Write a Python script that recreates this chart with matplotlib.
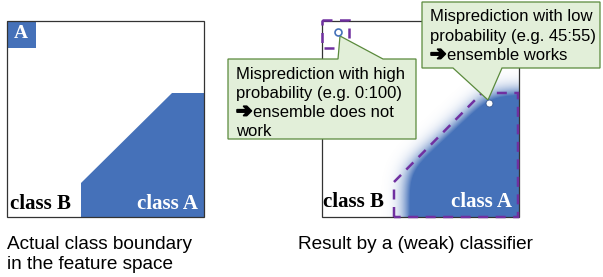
import numpy as np
import matplotlib.pyplot as plt
import matplotlib.patheffects as pe
from matplotlib.patches import Polygon, Rectangle
from matplotlib.path import Path

# --- dados (coordenadas em pixels da figura, y para baixo) ---
caixa_esq = [7, 21, 197, 196]          # x, y, largura, altura
caixa_dir = [322, 21, 197, 196]
quadrado_a = [7, 21, 29, 27]
regiao_a_real = [(81, 217), (81, 183), (172, 93), (204, 93), (204, 217)]
regiao_a_prev = [(410, 217), (410, 172), (490, 97), (519, 95), (519, 217)]
fronteira_prev = [(394, 217), (394, 182), (482, 93), (518, 93), (518, 217)]
quadrado_falha = [322, 20, 27, 28]
balao_alta = [(228, 59), (338, 59), (340, 36), (383, 59), (416, 59), (416, 139), (228, 139)]
balao_baixa = [(422, 2), (600, 2), (600, 68), (502, 68), (488, 100), (453, 68), (422, 68)]
pontos_erro = [(338, 32), (489, 103)]
texto_alta = ["Misprediction with high", "probability (e.g. 0:100)",
              "\u2794ensemble does not", "work"]
texto_baixa = ["Misprediction with low", "probability (e.g. 45:55)",
               "\u2794ensemble works"]
legenda_esq = ["Actual class boundary", "in the feature space"]
legenda_dir = "Result by a (weak) classifier"

AZUL = "#4571B9"
ROXO = "#7030A0"
VERDE_F = "#E2EFD9"
VERDE_B = "#5A8A3C"
SANS = ["Liberation Sans", "DejaVu Sans"]
SERIF = ["Liberation Serif", "DejaVu Serif"]

W, H = 603, 277
fig = plt.figure(figsize=(W / 100, H / 100), dpi=100)
ax = fig.add_axes([0, 0, 1, 1])
ax.set_xlim(0, W)
ax.set_ylim(H, 0)
ax.axis("off")

# --- painel esquerdo ---
ax.add_patch(Polygon(regiao_a_real, closed=True, fc=AZUL, ec="none", zorder=2))
ax.add_patch(Rectangle(quadrado_a[:2], quadrado_a[2], quadrado_a[3], fc=AZUL, ec="none", zorder=2))
ax.add_patch(Rectangle(caixa_esq[:2], caixa_esq[2], caixa_esq[3], fc="none", ec="#333333", lw=0.9, zorder=3))
ax.text(14, 38, "A", color="white", fontsize=14, fontweight="bold", family=SERIF, va="baseline", zorder=4)
ax.text(10, 209, "class B", color="black", fontsize=15, fontweight="bold", family=SERIF, va="baseline", zorder=4)
ax.text(198, 209, "class A", color="white", fontsize=15, fontweight="bold", family=SERIF,
        va="baseline", ha="right", zorder=4)

# --- painel direito: regiao prevista com gradiente ---
x0, y0, w, h = caixa_dir
xs = np.arange(x0, x0 + w) + 0.5
ys = np.arange(y0, y0 + h) + 0.5
gx, gy = np.meshgrid(xs, ys)
dentro = Path(regiao_a_prev).contains_points(np.c_[gx.ravel(), gy.ravel()]).reshape(gx.shape).astype(float)
# borrar a mascara (gaussiana separavel)
sig = 13.0
k = np.arange(-45, 46)
g = np.exp(-k ** 2 / (2 * sig ** 2))
g /= g.sum()
pad = np.pad(dentro, 45, mode="edge")
borr = np.apply_along_axis(lambda r: np.convolve(r, g, mode="same"), 1, pad)
borr = np.apply_along_axis(lambda c: np.convolve(c, g, mode="same"), 0, borr)[45:-45, 45:-45]
alfa = np.clip(2.0 * borr, 0, 1) ** 1.5
rgba = np.zeros(gx.shape + (4,))
rgba[..., :3] = np.array([0x45, 0x71, 0xB9]) / 255.0
rgba[..., 3] = alfa
ax.imshow(rgba, extent=(x0, x0 + w, y0 + h, y0), interpolation="bilinear", zorder=2)
ax.set_xlim(0, W)
ax.set_ylim(H, 0)

ax.add_patch(Rectangle(caixa_dir[:2], caixa_dir[2], caixa_dir[3], fc="none", ec="#333333", lw=0.9, zorder=3))
ax.add_patch(Polygon(fronteira_prev, closed=True, fc="none", ec=ROXO, lw=1.8, ls=(0, (4, 3)), zorder=4))
ax.add_patch(Rectangle(quadrado_falha[:2], quadrado_falha[2], quadrado_falha[3], fc="none",
                       ec=ROXO, lw=1.8, ls=(0, (4, 3)), zorder=4))
ax.text(323, 207, "class B", color="black", fontsize=15, fontweight="bold", family=SERIF, va="baseline", zorder=4)
ax.text(512, 207, "class A", color="white", fontsize=15, fontweight="bold", family=SERIF,
        va="baseline", ha="right", zorder=4)

# --- baloes ---
ax.add_patch(Polygon(balao_alta, closed=True, fc=VERDE_F, ec=VERDE_B, lw=0.9, zorder=6))
ax.add_patch(Polygon(balao_baixa, closed=True, fc=VERDE_F, ec=VERDE_B, lw=0.9, zorder=6))


def escreve(x, y, t):
    # a seta vai como texto a parte, mais grossa
    if t.startswith("\u2794"):
        ax.text(x, y, "\u2794", fontsize=14, family=["DejaVu Sans"], va="baseline", zorder=7,
                path_effects=[pe.withStroke(linewidth=1.3, foreground="black")])
        ax.text(x + 17, y, t[1:], fontsize=12, family=SANS, va="baseline", zorder=7)
    else:
        ax.text(x, y, t, fontsize=12, family=SANS, va="baseline", zorder=7)


for i, t in enumerate(texto_alta):
    escreve(236, 79 + i * 19, t)
for i, t in enumerate(texto_baixa):
    escreve(430, 21 + i * 19.5, t)

ax.plot(pontos_erro[0][0], pontos_erro[0][1], "o", ms=5, mfc="white", mec=AZUL, mew=1.2, zorder=8)
ax.plot(pontos_erro[1][0], pontos_erro[1][1], "o", ms=5, mfc="white", mec="#3A5A90", mew=0.6, zorder=8)

# --- legendas ---
for i, t in enumerate(legenda_esq):
    ax.text(7, 249 + i * 20, t, fontsize=13.7, family=SANS, va="baseline")
ax.text(298, 249, legenda_dir, fontsize=13.7, family=SANS, va="baseline")

fig.savefig("out.png", dpi=100)
